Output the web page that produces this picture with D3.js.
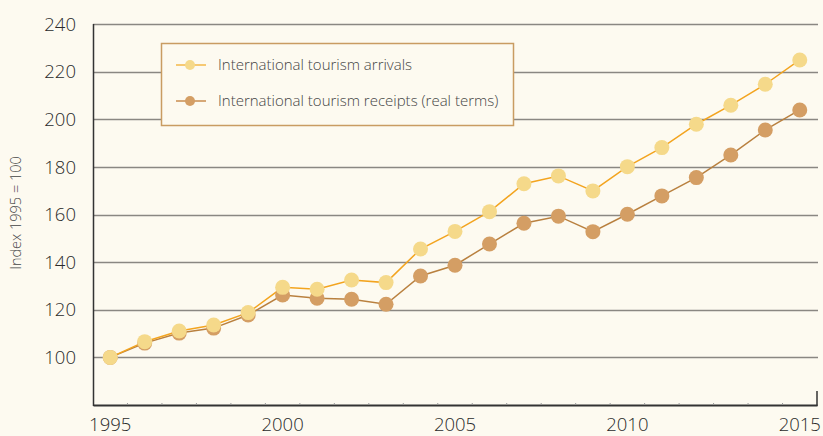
<!DOCTYPE html>
<html>
<head>
<meta charset="utf-8">
<script src="https://cdn.jsdelivr.net/npm/d3@7"></script>
<style>
  html, body { margin: 0; padding: 0; background: #fdfaf0; }
  svg { display: block; font-family: "Open Sans", "Liberation Sans", Arial, sans-serif; font-weight: 300; }
</style>
</head>
<body>
<svg id="chart" width="823" height="436"></svg>
<script>
const years = [1995,1996,1997,1998,1999,2000,2001,2002,2003,2004,2005,2006,2007,2008,2009,2010,2011,2012,2013,2014,2015];
const arrivals = [100,106.6,111.1,113.6,118.8,129.4,128.6,132.5,131.4,145.5,152.9,161.2,172.9,176.2,169.9,180.1,188.1,197.9,205.9,214.7,224.9];
const receipts = [100,106,110.2,112.3,117.8,126.2,124.8,124.4,122.3,134.2,138.7,147.6,156.3,159.3,152.8,160.1,167.8,175.5,185,195.5,203.9];
const yTicks = [100,120,140,160,180,200,220,240];
const xTickLabels = [1995,2000,2005,2010,2015];
const seriesNames = ["International tourism arrivals","International tourism receipts (real terms)"];

const svg = d3.select("#chart");
const mLeft = 93, mRight = 817, mTop = 24, mBottom = 405;

const x = d3.scaleBand().domain(years).range([mLeft, mRight]);
const xc = d => x(d) + x.bandwidth() / 2;
const y = d3.scaleLinear().domain([80, 240]).range([mBottom, mTop]);

// background
svg.append("rect").attr("width", 823).attr("height", 436).attr("fill", "#fdfaf0");

// gridlines
svg.append("g").selectAll("line").data(yTicks).join("line")
  .attr("x1", mLeft).attr("x2", mRight + 1)
  .attr("y1", d => Math.round(y(d)) + 0.5).attr("y2", d => Math.round(y(d)) + 0.5)
  .attr("stroke", "#8a8782").attr("stroke-width", 1.3);

// y tick labels
svg.append("g").selectAll("text").data(yTicks).join("text")
  .attr("x", 76).attr("y", d => y(d)).attr("dy", "0.36em")
  .attr("text-anchor", "end").attr("font-size", 18.5).attr("fill", "#2a2a2a")
  .text(d => d);

// y axis line
svg.append("line").attr("x1", mLeft + 0.5).attr("x2", mLeft + 0.5)
  .attr("y1", mTop).attr("y2", mBottom + 1)
  .attr("stroke", "#333").attr("stroke-width", 1.5);

// x axis
const xAxis = d3.axisBottom(x).tickValues([]).tickSize(0);
const xg = svg.append("g").attr("transform", `translate(0,${mBottom})`).call(xAxis);
xg.select(".domain").attr("stroke", "#333").attr("stroke-width", 2);
// minor ticks at band boundaries
svg.append("g").selectAll("line").data(years.slice(1)).join("line")
  .attr("x1", d => x(d)).attr("x2", d => x(d))
  .attr("y1", mBottom - 2).attr("y2", mBottom)
  .attr("stroke", "#999").attr("stroke-width", 1);
svg.append("line").attr("x1", mRight).attr("x2", mRight)
  .attr("y1", mBottom - 14).attr("y2", mBottom + 1)
  .attr("stroke", "#333").attr("stroke-width", 1.5);

svg.append("g").selectAll("text").data(xTickLabels).join("text")
  .attr("x", d => xc(d)).attr("y", 431)
  .attr("text-anchor", "middle").attr("font-size", 18.5).attr("fill", "#2a2a2a")
  .text(d => d);

// y-axis title
svg.append("text")
  .attr("transform", "translate(21,213) rotate(-90)")
  .attr("text-anchor", "middle").attr("font-size", 14.5).attr("fill", "#444")
  .text("Index 1995 = 100");

const line = d3.line().x((d, i) => xc(years[i])).y(d => y(d));

const series = [
  { name: seriesNames[1], values: receipts, stroke: "#b9803f", fill: "#d49e64" },
  { name: seriesNames[0], values: arrivals, stroke: "#f3a41f", fill: "#f5d98a" }
];

series.forEach(s => {
  svg.append("path").datum(s.values).attr("d", line)
    .attr("fill", "none").attr("stroke", s.stroke).attr("stroke-width", 1.5);
});
series.forEach(s => {
  svg.append("g").selectAll("circle").data(s.values).join("circle")
    .attr("cx", (d, i) => xc(years[i])).attr("cy", d => y(d)).attr("r", 7.5)
    .attr("fill", s.fill);
});

// legend
const lg = svg.append("g");
lg.append("rect").attr("x", 161.5).attr("y", 43.5).attr("width", 352).attr("height", 82)
  .attr("fill", "#fdfaf0").attr("stroke", "#c99c62").attr("stroke-width", 1.5);
const legendItems = [
  { name: seriesNames[0], stroke: "#f3b84a", fill: "#f5d98a", yy: 65 },
  { name: seriesNames[1], stroke: "#c98d4f", fill: "#d49e64", yy: 101 }
];
legendItems.forEach(it => {
  lg.append("line").attr("x1", 176).attr("x2", 206).attr("y1", it.yy).attr("y2", it.yy)
    .attr("stroke", it.stroke).attr("stroke-width", 1.5);
  lg.append("circle").attr("cx", 190).attr("cy", it.yy).attr("r", 5).attr("fill", it.fill);
  lg.append("text").attr("x", 218).attr("y", it.yy).attr("dy", "0.36em")
    .attr("font-size", 15).attr("fill", "#444").text(it.name);
});
</script>
</body>
</html>
